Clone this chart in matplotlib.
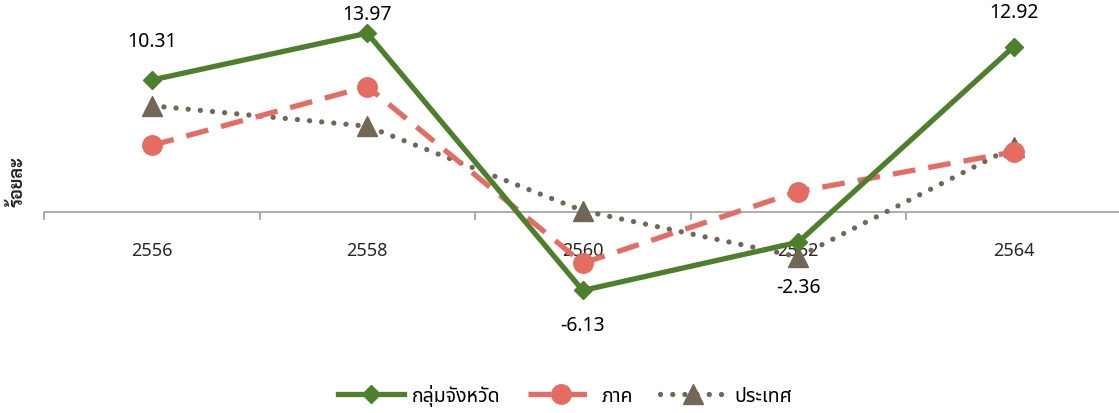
import matplotlib
matplotlib.use("Agg")
import matplotlib.pyplot as plt
from matplotlib import font_manager
import numpy as np

# ---------------- data ----------------
years = ["2556", "2558", "2560", "2562", "2564"]
group_vals = [10.31, 13.97, -6.13, -2.36, 12.92]     # กลุ่มจังหวัด
region_vals = [5.2, 9.8, -4.0, 1.6, 4.7]             # ภาค
country_vals = [8.3, 6.7, 0.1, -3.5, 5.1]            # ประเทศ
series_names = ["กลุ่มจังหวัด", "ภาค", "ประเทศ"]
ylabel_text = "ร้อยละ"

# ---------------- fonts ----------------
thai_family = ["Noto Sans Thai", "Noto Sans", "DejaVu Sans"]
thai_looped = ["Sarabun", "Noto Sans Thai Looped", "DejaVu Sans"]
num_family = ["Noto Sans", "DejaVu Sans"]

GREEN = "#4E7F2C"
RED = "#E46C62"
GREY = "#726656"
AXIS = "#A6A6A6"

fig = plt.figure(figsize=(11.19, 4.14), dpi=100)
W, H = 1119.0, 414.0
ax = fig.add_axes([44 / W, (H - 341) / H, 1077.5 / W, 341 / H])
x = np.arange(len(years))

ax.plot(x, country_vals, color=GREY, lw=3.8, linestyle=(0, (0.01, 2.3)),
        dash_capstyle="round", marker="^", ms=14, mec=GREY, mfc=GREY, zorder=3,
        label=series_names[2], clip_on=False)
ax.plot(x, region_vals, color=RED, lw=3.8, linestyle=(0, (4.3, 2.5)),
        marker="o", ms=14, mec=RED, mfc=RED, zorder=4, label=series_names[1],
        clip_on=False)
ax.plot(x, group_vals, color=GREEN, lw=3.8, linestyle="-", marker="D", ms=9,
        mec=GREEN, mfc=GREEN, zorder=5, label=series_names[0], clip_on=False)

# data labels on the group series
label_offsets = [28, 14, -25, -32, 25]  # points
for xi, v, off in zip(x, group_vals, label_offsets):
    ax.annotate(f"{v:.2f}", (xi, v), xytext=(0, off), textcoords="offset points",
                ha="center", va="center", fontsize=14, family=num_family,
                color="black", annotation_clip=False)

ax.set_xlim(-0.5, len(years) - 0.5)
ax.set_ylim(-10, 16.64)
for s in ["top", "right", "left"]:
    ax.spines[s].set_visible(False)
ax.spines["bottom"].set_position(("data", 0))
ax.spines["bottom"].set_color(AXIS)
ax.spines["bottom"].set_linewidth(1.3)
ax.set_yticks([])

ax.set_xticks(x)
ax.set_xticklabels(years, family=num_family, fontsize=13, color="#262626")
ax.tick_params(axis="x", which="major", length=0, pad=21)
ax.set_xticks(np.arange(-0.5, len(years), 1.0), minor=True)
ax.tick_params(axis="x", which="minor", length=6, width=1.3, color=AXIS,
               direction="out")

fig.text(18 / W, 1 - 182 / H, ylabel_text, rotation=90, ha="center", va="center",
         fontsize=13, family=thai_looped, fontweight="bold", color="#262626")

handles, labels = ax.get_legend_handles_labels()
order = [2, 1, 0]
fig.legend([handles[i] for i in order], [labels[i] for i in order],
           loc="center", bbox_to_anchor=(565 / W, 1 - 396 / H),
           ncol=3, frameon=False, numpoints=1, handlelength=3.4,
           columnspacing=1.4, handletextpad=0.4,
           prop=font_manager.FontProperties(family=thai_family, size=14))

fig.savefig("out.png", dpi=100)
